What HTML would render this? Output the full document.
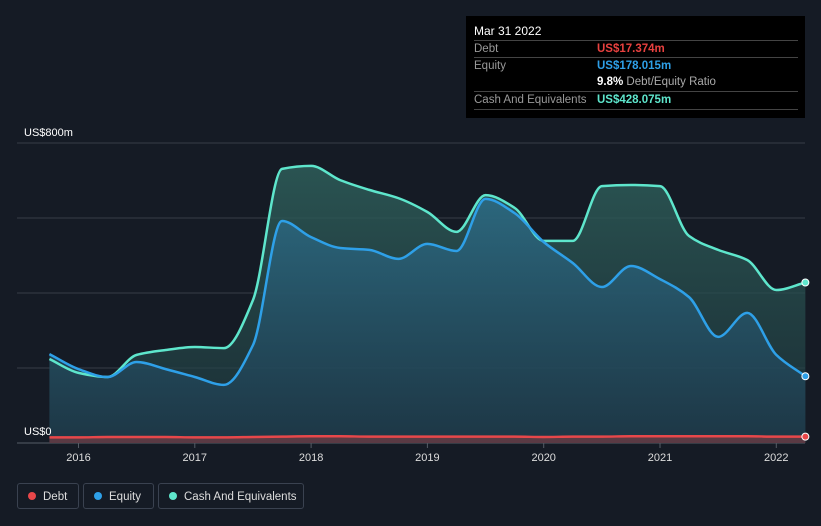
<!DOCTYPE html>
<html><head><meta charset="utf-8"><style>
body{margin:0;background:#151b25;font-family:"Liberation Sans",sans-serif;}
#wrap{position:relative;width:821px;height:526px;overflow:hidden;background:#151b25;}
svg{position:absolute;left:0;top:0}
.tt{position:absolute;left:466px;top:16px;width:339px;height:102px;background:#000;color:#fff;font-size:11.5px}
.row{position:absolute;left:8px;width:324px;border-top:1px solid #444;height:17px;line-height:17px}
.lab{color:#999;position:absolute;left:0}
.val{position:absolute;left:123px;font-weight:bold}
.leg{position:absolute;top:483px;height:26px;border:1px solid #3a4250;border-radius:3px;color:#ddd;font-size:11.5px;line-height:26px;box-sizing:border-box}
.dot{display:inline-block;width:8px;height:8px;border-radius:50%;margin:0 7px 0 10px;vertical-align:-0px}
</style></head><body>
<div id="wrap">
<svg id="chart" width="821" height="526">
<defs>
<linearGradient id="gc" x1="0" y1="0" x2="0" y2="1"><stop offset="0" stop-color="#2e5e5a" stop-opacity="0.85"/><stop offset="1" stop-color="#1f3b40" stop-opacity="0.6"/></linearGradient>
<linearGradient id="ge" x1="0" y1="0" x2="0" y2="1"><stop offset="0" stop-color="#2c6b85" stop-opacity="0.85"/><stop offset="1" stop-color="#1e3a4c" stop-opacity="0.7"/></linearGradient>
</defs>
<g id="grid"></g><g id="marks"></g><g id="axes"></g>
</svg>
<div class="tt">
<div style="position:absolute;left:8px;top:8px;font-size:12px">Mar 31 2022</div>
<div class="row" style="top:24px"><span class="lab">Debt</span><span class="val" style="color:#e8413f">US$17.374m</span></div>
<div class="row" style="top:41px"><span class="lab">Equity</span><span class="val" style="color:#2ea0e8">US$178.015m</span></div>
<div class="row" style="top:58px;border-top:none"><span class="val" style="color:#fff">9.8% <span style="color:#aaa;font-weight:normal">Debt/Equity Ratio</span></span></div>
<div class="row" style="top:75px;border-bottom:1px solid #444"><span class="lab">Cash And Equivalents</span><span class="val" style="color:#5ee6cc">US$428.075m</span></div>
</div>
<div class="leg" style="left:17px;width:62px"><span class="dot" style="background:#e8474a"></span>Debt</div>
<div class="leg" style="left:83px;width:71px"><span class="dot" style="background:#2ea0e8"></span>Equity</div>
<div class="leg" style="left:158px;width:146px"><span class="dot" style="background:#5ee6cc"></span>Cash And Equivalents</div>
</div>
<script>
const dates=[2015.75,2016,2016.25,2016.5,2016.75,2017,2017.25,2017.5,2017.75,2018,2018.25,2018.5,2018.75,2019,2019.25,2019.5,2019.75,2020,2020.25,2020.5,2020.75,2021,2021.25,2021.5,2021.75,2022,2022.25];
const cash=[224,187,176,235,248,256,253,381,731,739,701,675,653,616,563,661,627,539,539,685,688,685,552,515,488,408,428];
const equity=[237,197,176,216,197,176,155,261,592,549,520,515,491,531,512,651,613,536,480,416,472,437,389,283,347,235,178];
const debt=[15,15,16,16,16,15,15,16,17,18,18,17,17,17,17,17,17,16,17,17,18,18,18,18,18,17,17];
const xTicks=[2016,2017,2018,2019,2020,2021,2022];
const yTicks=[0,200,400,600,800];
const yLabels=["US$0","","","","US$800m"];
const NS="http://www.w3.org/2000/svg";
const x=d=>78.5+(d-2016)*116.3;
const y=v=>443-v*0.375;
function mk(t,a,p){const e=document.createElementNS(NS,t);for(const k in a)e.setAttribute(k,a[k]);p.appendChild(e);return e;}
const grid=document.getElementById('grid'),marks=document.getElementById('marks'),axes=document.getElementById('axes');
yTicks.forEach((t,i)=>{
 const l=mk('line',{x1:17,x2:805,y1:y(t),y2:y(t),stroke:i==0?'#555c66':'#363d48','stroke-width':1},grid);
 
 
 if(yLabels[i]){const tx=mk('text',{x:24,y:y(t)-(i==0?8:7),fill:'#fff','font-size':11},axes);tx.textContent=yLabels[i];
 
 }
});
xTicks.forEach(t=>{
 const tk=mk('line',{x1:x(t),x2:x(t),y1:443,y2:448,stroke:'#555c66'},axes);
 
 
 const tx=mk('text',{x:x(t),y:461,fill:'#ddd','font-size':11,'text-anchor':'middle'},axes);tx.textContent=t;
 
 
});
function path(vals){
 const p=vals.map((v,i)=>[x(dates[i]),y(v)]);
 const n=p.length,s=[],m=[];
 for(let i=0;i<n-1;i++)s.push((p[i+1][1]-p[i][1])/(p[i+1][0]-p[i][0]));
 for(let i=0;i<n;i++){
  if(i==0)m.push(s[0]);else if(i==n-1)m.push(s[n-2]);
  else m.push(s[i-1]*s[i]<=0?0:2/(1/s[i-1]+1/s[i]));
 }
 let d='M'+p[0][0]+','+p[0][1];
 for(let i=0;i<n-1;i++){
  const h=(p[i+1][0]-p[i][0])/3;
  d+=' C'+(p[i][0]+h)+','+(p[i][1]+m[i]*h)+' '+(p[i+1][0]-h)+','+(p[i+1][1]-m[i+1]*h)+' '+p[i+1][0]+','+p[i+1][1];
 }
 return d;
}
function area(vals,fill,name){
 const a=mk('path',{d:path(vals)+' L'+x(dates[dates.length-1])+','+y(0)+' L'+x(dates[0])+','+y(0)+' Z',fill:fill},marks);
 
 
}
function line(vals,col,name){
 const l=mk('path',{d:path(vals),fill:'none',stroke:col,'stroke-width':2.5},marks);
 
 
 const n=vals.length-1;
 const c=mk('circle',{cx:x(dates[n]),cy:y(vals[n]),r:3.5,fill:col,stroke:'#fff','stroke-width':1},marks);
 
 
}
area(cash,'url(#gc)','cash-area');
area(equity,'url(#ge)','equity-area');
area(debt,'#5a3a44','debt-area');
line(cash,'#5ee6cc','cash-line');
line(equity,'#2ea0e8','equity-line');
line(debt,'#e8474a','debt-line');
</script>
</body></html>
